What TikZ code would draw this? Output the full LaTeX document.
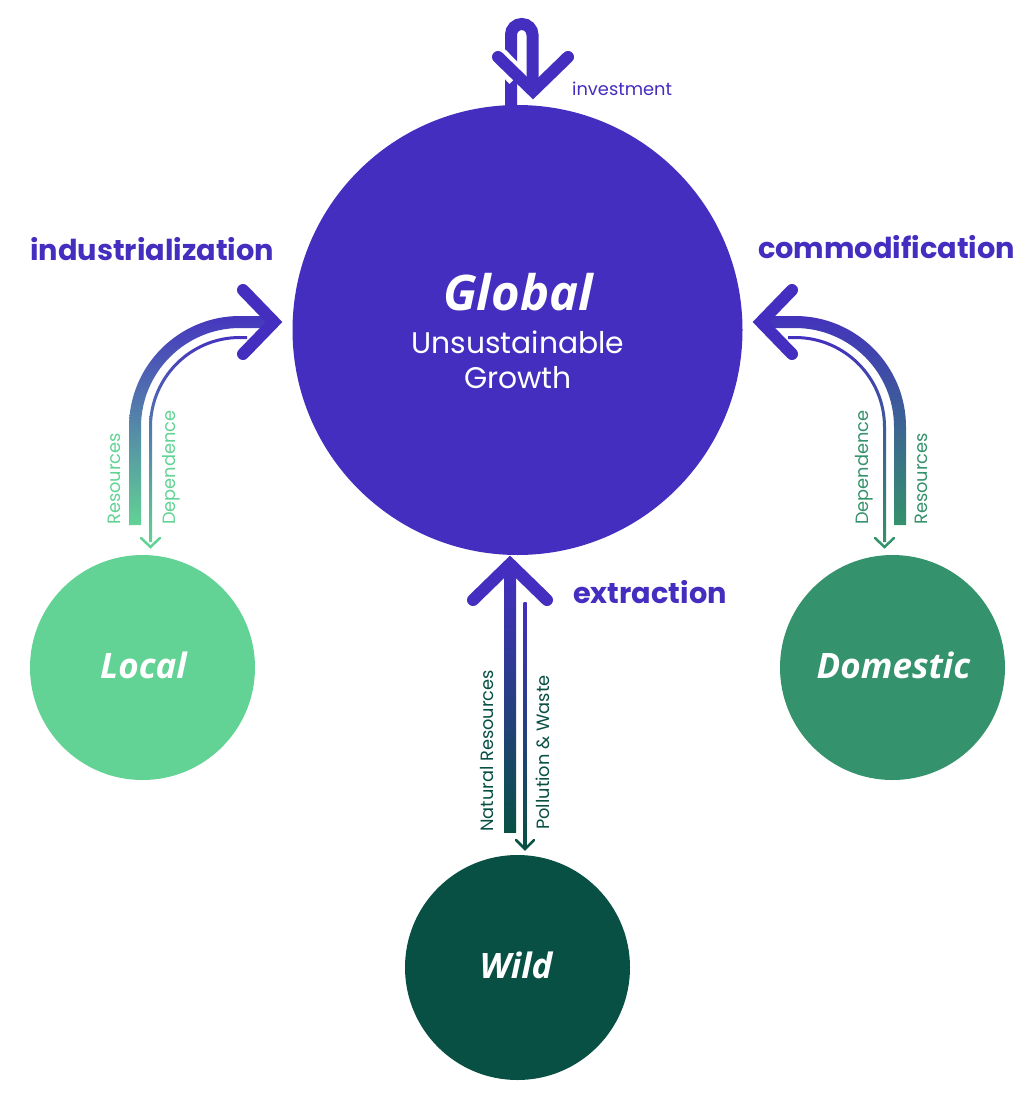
\documentclass[tikz,border=0pt]{standalone}
\usepackage{fontspec}
\setmainfont{Poppins}
\newfontfamily\titlefont{Open Sans}
\definecolor{gpurple}{RGB}{68,46,192}
\definecolor{localg}{RGB}{98,211,148}
\definecolor{domg}{RGB}{52,146,108}
\definecolor{wildg}{RGB}{8,80,68}
\tikzset{
  chevron/.style={draw=gpurple, line width=12pt, line cap=round, line join=miter},
  smalltip/.style={line width=2.5pt, line cap=round, line join=miter},
  bigcirc/.style={circle, inner sep=0pt, draw=none},
  circtitle/.style={text=white, inner sep=0pt, anchor=base, font=\titlefont\bfseries\itshape\fontsize{35}{40}\selectfont},
  flowlbl/.style={text=gpurple, inner sep=0pt, anchor=base west, font=\bfseries\fontsize{28.8}{32}\selectfont},
  rotlbl/.style={inner sep=0pt, anchor=base west, rotate=90, font=\fontsize{17.8}{20}\selectfont}
}
\newcommand\sidearrowset[2]{%
  \begin{scope}[#2]
    \begin{scope}
      \clip (129,525) -- (129,427) .. controls (129,365.7) and (178.7,316) .. (240,316)
        -- (272,316) -- (272,328) -- (240,328)
        .. controls (185.3,328) and (141,372.3) .. (141,427) -- (141,525) -- cycle;
      \shade[top color=gpurple, bottom color=#1] (120,305) rectangle (290,526);
    \end{scope}
    \begin{scope}
      \clip (149,542) -- (149,427) .. controls (149,376.7) and (189.7,336) .. (240,336)
        -- (247,336) -- (247,339) -- (240,339)
        .. controls (191.4,339) and (152,378.4) .. (152,427) -- (152,542) -- cycle;
      \shade[top color=gpurple, bottom color=#1] (140,330) rectangle (260,543);
    \end{scope}
    \draw[smalltip, draw=#1] (141,538) -- (150.5,547) -- (160,538);
    \draw[chevron] (243,290) -- (274,322) -- (243,354);
  \end{scope}}
\begin{document}
\begin{tikzpicture}[x=1pt,y=-1pt]
\useasboundingbox[fill=white] (0,0) rectangle (1035,1110);

% circles
\node[bigcirc, fill=gpurple, minimum size=450pt] (global) at (517.5,330) {};
\node[bigcirc, fill=localg, minimum size=225pt] (local) at (142.5,667.5) {};
\node[bigcirc, fill=domg, minimum size=225pt] (domestic) at (892.5,667.5) {};
\node[bigcirc, fill=wildg, minimum size=225pt] (wild) at (517.5,967.5) {};

% circle texts
\node[circtitle, font=\titlefont\bfseries\itshape\fontsize{49}{52}\selectfont] (globaltitle) at (518,310) {Global};
\node[text=white, inner sep=0pt, anchor=base, font=\fontsize{29.8}{32}\selectfont] (unsust) at (518,353) {Unsustainable};
\node[text=white, inner sep=0pt, anchor=base, font=\fontsize{29.8}{32}\selectfont] (growth) at (518,388) {Growth};
\node[circtitle] (localtitle) at (143.5,678) {Local};
\node[circtitle] (domtitle) at (893.5,678) {Domestic};
\node[circtitle] (wildtitle) at (516,978) {Wild};

% investment loop
\draw[gpurple, line width=12pt] (511,108) -- (511,34.75)
  .. controls (511,28.8) and (515.8,24) .. (521.75,24)
  .. controls (527.7,24) and (532.5,28.8) .. (532.5,34.75) -- (532.5,88);
\draw[white, line width=21pt] (498,57) -- (517,76.5);
\draw[chevron] (498,57) -- (533,91) -- (568,57);
\node[text=gpurple, inner sep=0pt, anchor=base west, font=\fontsize{17.8}{20}\selectfont] (invest) at (572,96) {investment};

% side arrows
\sidearrowset{localg}{}
\sidearrowset{domg}{xshift=1035pt, xscale=-1}

% central arrows
\shade[top color=gpurple, bottom color=wildg] (504,570) rectangle (516,832);
\shade[top color=gpurple, bottom color=wildg] (523.5,602) rectangle (526.5,846);
\draw[smalltip, draw=wildg] (516,840) -- (525,849) -- (534,840);
\draw[chevron] (473,600) -- (510,564) -- (547,600);

% flow labels
\node[flowlbl] (industrialization) at (30,260) {industrialization};
\node[flowlbl] (commodification) at (758,258) {commodification};
\node[flowlbl] (extraction) at (573,603) {extraction};

% rotated labels
\node[rotlbl, text=localg] (lres) at (120,525) {Resources};
\node[rotlbl, text=localg] (ldep) at (175,525) {Dependence};
\node[rotlbl, text=domg] (rdep) at (868,525) {Dependence};
\node[rotlbl, text=domg] (rres) at (927,525) {Resources};
\node[rotlbl, text=wildg] (natres) at (493,832) {Natural Resources};
\node[rotlbl, text=wildg] (pollution) at (549,830) {Pollution \& Waste};
\end{tikzpicture}
\end{document}
